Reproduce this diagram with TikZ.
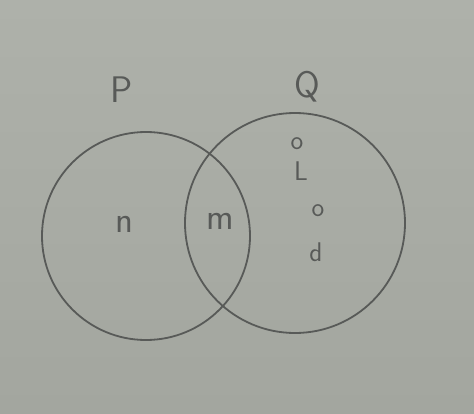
\documentclass[tikz,border=0pt]{standalone}
\definecolor{paper}{RGB}{174,177,170}
\definecolor{paperlow}{RGB}{163,166,159}
\definecolor{pencil}{RGB}{88,90,88}
\begin{document}
\begin{tikzpicture}[x=1pt,y=-1pt]
  \shade[top color=paper,bottom color=paperlow] (0,0) rectangle (474,413);
  \useasboundingbox (0,0) rectangle (474,413);
  \begin{scope}[every path/.style={draw=pencil,line width=1.8pt}]
    \draw (146,236) circle (104);
    \draw (295,223) circle (110);
  \end{scope}
  \begin{scope}[every node/.style={text=pencil,font=\sffamily\fontsize{37}{40}\selectfont}]
    \node (p) at (122,90) {P};
    \node (q) at (307,87) {Q};
    \node (n) at (124,224) {n};
    \node (m) at (220,221) {m};
  \end{scope}
  \begin{scope}[every node/.style={text=pencil,font=\sffamily\fontsize{27}{30}\selectfont}]
    \node (o1) at (297,144) {o};
    \node (l) at (301,171) {L};
    \node (o2) at (318,211) {o};
    \node (d) at (316,252) {d};
  \end{scope}
\end{tikzpicture}
\end{document}
